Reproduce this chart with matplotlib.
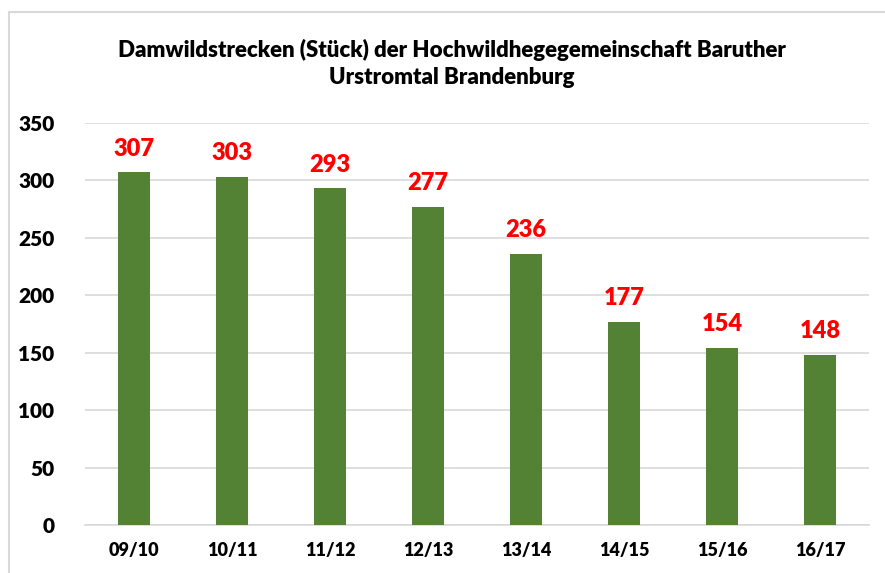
import matplotlib
matplotlib.use("Agg")
import matplotlib.pyplot as plt
from matplotlib.patches import Rectangle

categories = ["09/10", "10/11", "11/12", "12/13", "13/14", "14/15", "15/16", "16/17"]
values = [307, 303, 293, 277, 236, 177, 154, 148]
yticks = [0, 50, 100, 150, 200, 250, 300, 350]
title = "Damwildstrecken (Stück) der Hochwildhegegemeinschaft Baruther\nUrstromtal Brandenburg"

plt.rcParams['font.family'] = ['Lato', 'DejaVu Sans']
WEIGHT = "heavy"

W, H = 885, 573
fig = plt.figure(figsize=(W / 100, H / 100), dpi=100)
fig.patch.set_facecolor("white")

# outer chart border (cut off at right/bottom like the reference)
fig.patches.append(Rectangle((9 / W, -0.05), 1.1, 1 - 12 / H + 0.05, transform=fig.transFigure,
                             fill=False, edgecolor="#d9d9d9", linewidth=1.5))

left, right = 85 / W, 869 / W
bottom, top = 1 - 525 / H, 1 - 123 / H
ax = fig.add_axes([left, bottom, right - left, top - bottom])

x = range(len(categories))
ax.bar(x, values, width=0.32, color="#548235", zorder=3)
for xi, v in zip(x, values):
    ax.text(xi, v + 11, str(v), ha="center", va="bottom", color="#ff0000",
            fontsize=17, fontweight=WEIGHT)

ax.set_xlim(-0.5, len(categories) - 0.5)
ax.set_ylim(0, 350)
ax.set_yticks(yticks)
ax.set_yticklabels([str(t) for t in yticks], fontsize=15, fontweight=WEIGHT)
ax.set_xticks(list(x))
ax.set_xticklabels(categories, fontsize=13, fontweight=WEIGHT)
ax.grid(axis="y", color="#d9d9d9", linewidth=1.2, zorder=0)
for s in ["top", "right", "left"]:
    ax.spines[s].set_visible(False)
ax.spines["bottom"].set_color("#d9d9d9")
ax.spines["bottom"].set_linewidth(1.2)
ax.tick_params(axis="both", length=0)
ax.tick_params(axis="y", pad=22)
ax.tick_params(axis="x", pad=12)

fig.text(452 / W, 1 - 63 / H, title, ha="center", va="center", fontsize=16,
         fontweight=WEIGHT, linespacing=1.35)

fig.savefig("out.png", dpi=100)
